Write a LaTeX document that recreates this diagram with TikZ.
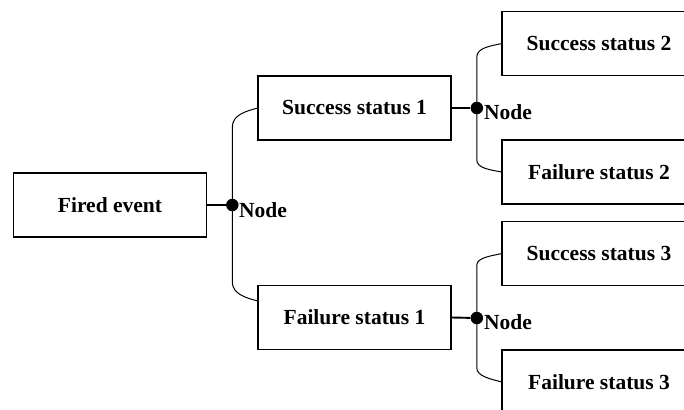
\documentclass[tikz,border=0pt]{standalone}
\usepackage{fontspec}
\setmainfont{Liberation Serif}
\begin{document}
\begin{tikzpicture}[x=1pt,y=-1pt,
  box/.style={draw,line width=1.1pt,minimum width=193pt,minimum height=64pt,inner sep=0pt,font=\fontsize{21.5}{24}\selectfont\bfseries},
  dot/.style={circle,fill=black,inner sep=0pt,minimum size=12.5pt},
  nlabel/.style={anchor=west,inner sep=0pt,font=\fontsize{21.5}{24}\selectfont\bfseries},
  stub/.style={line width=1.9pt},
  branch/.style={line width=1pt}]
\useasboundingbox (0,0) rectangle (684,409);
\clip (0,0) rectangle (684,409);
\node[box] (fe) at (110,205) {Fired event};
\node[box] (s1) at (354.5,108) {Success status 1};
\node[box] (f1) at (354.5,317.5) {Failure status 1};
\node[box,minimum width=194pt] (s2) at (599,43.5) {Success status 2};
\node[box,minimum width=194pt] (f2) at (599,172) {Failure status 2};
\node[box,minimum width=194pt] (s3) at (599,253.5) {Success status 3};
\node[box,minimum width=194pt] (f3) at (599,382) {Failure status 3};
\node[dot] (j1) at (232.3,205) {};
\node[dot] (j2) at (476.8,108) {};
\node[dot] (j3) at (476.8,318) {};
\node[nlabel] (n1) at (239,210) {Node};
\node[nlabel] (n2) at (484,112) {Node};
\node[nlabel] (n3) at (484,322) {Node};
\draw[stub] (fe.east) -- (j1);
\draw[stub] (s1.east) -- (j2);
\draw[stub] (f1.east) -- (j3);
% junction 1
\coordinate (a1) at (232.3,127); \coordinate (b1) at (232.3,282);
\coordinate (e1) at (258,108); \coordinate (e2) at (258,301);
\draw[branch] (e1) .. controls (246,111) and (232.3,115) .. (a1) -- (b1) .. controls (232.3,294) and (246,298) .. (e2);
% junction 2
\coordinate (a2) at (476.8,57); \coordinate (b2) at (476.8,160);
\coordinate (e3) at (502,43.5); \coordinate (e4) at (502,172);
\draw[branch] (e3) .. controls (490,46) and (476.8,48) .. (a2) -- (b2) .. controls (476.8,168) and (490,170) .. (e4);
% junction 3
\coordinate (a3) at (476.8,265); \coordinate (b3) at (476.8,368);
\coordinate (e5) at (502,253.5); \coordinate (e6) at (502,382);
\draw[branch] (e5) .. controls (490,256) and (476.8,258) .. (a3) -- (b3) .. controls (476.8,376) and (490,379) .. (e6);
\end{tikzpicture}
\end{document}
